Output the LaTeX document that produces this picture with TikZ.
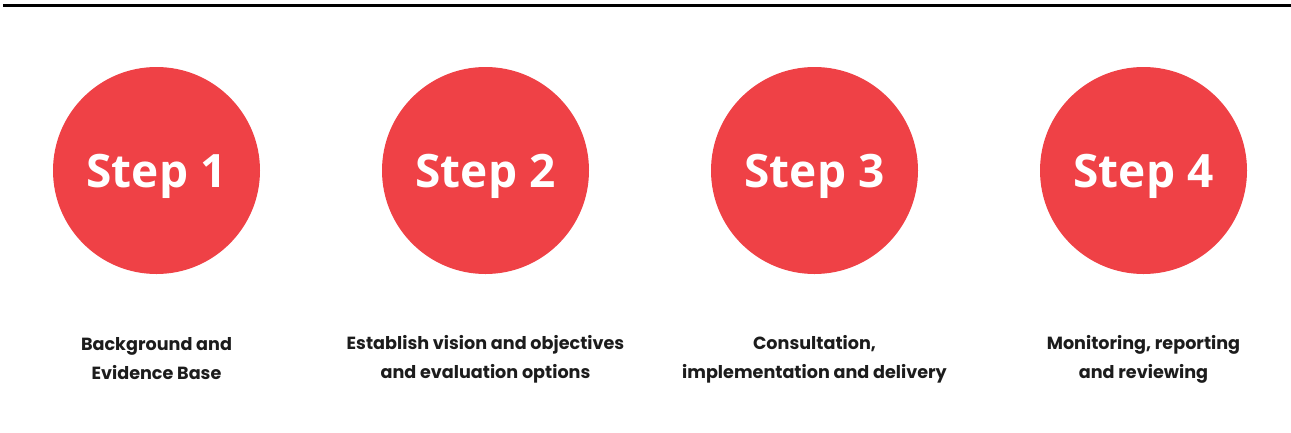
\documentclass[tikz,border=0pt]{standalone}
\usepackage{fontspec}
\setmainfont{Poppins}
\newfontfamily\stepfont{Open Sans}
\definecolor{stepred}{HTML}{EF4146}
\definecolor{labelgray}{HTML}{1C1C1C}
\begin{document}
\begin{tikzpicture}[x=1pt,y=-1pt,inner sep=0pt,outer sep=0pt,
stepcirc/.style={circle,fill=stepred,minimum size=207pt,text=white,text height=33pt,text depth=0pt,font=\stepfont\bfseries\fontsize{46}{50}\selectfont},
steplabel/.style={align=center,text=labelgray,font=\bfseries\fontsize{17.6}{29}\selectfont}]
\useasboundingbox (0,0) rectangle (1291,432);
\draw[line width=3pt] (3,5.5) -- (1291,5.5);
\draw (156.5,170.5) node[stepcirc] (s1) {Step 1};
\draw (485.5,170.5) node[stepcirc] (s2) {Step 2};
\draw (814.5,170.5) node[stepcirc] (s3) {Step 3};
\draw (1143.5,170.5) node[stepcirc] (s4) {Step 4};
\draw (s1.south) ++(0,85) node[steplabel] (l1) {Background and\\Evidence Base};
\draw (s2.south) ++(0,85) node[steplabel] (l2) {Establish vision and objectives\\and evaluation options};
\draw (s3.south) ++(0,85) node[steplabel] (l3) {Consultation,\\implementation and delivery};
\draw (s4.south) ++(0,85) node[steplabel] (l4) {Monitoring, reporting\\and reviewing};
\end{tikzpicture}
\end{document}
